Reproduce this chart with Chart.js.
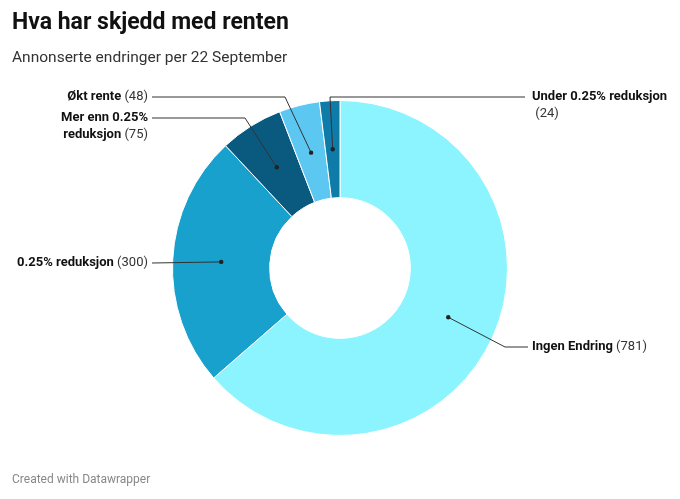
<!DOCTYPE html>
<html>
<head>
<meta charset="utf-8">
<script src="https://cdn.jsdelivr.net/npm/chart.js@4"></script>
<style>
body{margin:0;font-family:Roboto,sans-serif;background:#fff;}
#wrap{position:relative;width:680px;height:499px;}
#title{position:absolute;left:12px;top:8px;font-size:23px;font-weight:700;color:#111;}
#sub{position:absolute;left:12px;top:48px;font-size:15.5px;color:#333;}
#foot{position:absolute;left:12px;top:472px;font-size:12px;color:#888;}
canvas{position:absolute;left:0;top:0;}
</style>
</head>
<body>
<div id="wrap">
<canvas id="chart1" width="680" height="499"></canvas>
<div id="title">Hva har skjedd med renten</div>
<div id="sub">Annonserte endringer per 22 September</div>
<div id="foot">Created with Datawrapper</div>
</div>
<script>
var labels = ['Ingen Endring', '0.25% reduksjon', 'Mer enn 0.25% reduksjon', 'Økt rente', 'Under 0.25% reduksjon'];
var values = [781, 300, 75, 48, 24];
var colors = ['#8cf4ff', '#18a1cd', '#0a5a80', '#5cc8f2', '#0f7ba9'];

// label text lines + leader line bend points for each slice
var callouts = [
	{lines:[['Ingen Endring',' (781)']], x:532, y:347, align:'left', path:[[505,347],[528,347]]},
	{lines:[['0.25% reduksjon',' (300)']], x:148, y:263, align:'right', path:[[152,263]]},
	{lines:[['Mer enn 0.25%',''],['reduksjon',' (75)']], x:148, y:118, align:'right', path:[[245,118],[152,118]]},
	{lines:[['Økt rente',' (48)']], x:148, y:97, align:'right', path:[[285,97],[152,97]]},
	{lines:[['Under 0.25% reduksjon',''],['',' (24)']], x:532, y:97, align:'left', path:[[330,97],[525,97]]}
];

var calloutPlugin = {
	id: 'callouts',
	afterDraw: function(chart){
		var ctx = chart.ctx;
		var arcs = chart.getDatasetMeta(0).data;
		arcs.forEach(function(arc, i){
			var mid = (arc.startAngle + arc.endAngle) / 2;
			var r = (arc.innerRadius + arc.outerRadius) / 2;
			var px = arc.x + Math.cos(mid) * r;
			var py = arc.y + Math.sin(mid) * r;
			var c = callouts[i];
			ctx.save();
			ctx.strokeStyle = '#333';
			ctx.lineWidth = 1;
			ctx.beginPath();
			ctx.moveTo(px, py);
			c.path.forEach(function(p){ ctx.lineTo(p[0], p[1]); });
			ctx.stroke();
			ctx.fillStyle = '#222';
			ctx.beginPath();
			ctx.arc(px, py, 2.2, 0, Math.PI * 2);
			ctx.fill();
			ctx.textBaseline = 'middle';
			c.lines.forEach(function(ln, k){
				var y = c.y + k * 17;
				ctx.font = 'bold 13px Roboto';
				var w1 = ctx.measureText(ln[0]).width;
				ctx.font = '13px Roboto';
				var w2 = ctx.measureText(ln[1]).width;
				var x = c.align === 'left' ? c.x : c.x - w1 - w2;
				ctx.textAlign = 'left';
				ctx.fillStyle = '#111';
				ctx.font = 'bold 13px Roboto';
				ctx.fillText(ln[0], x, y);
				ctx.font = '13px Roboto';
				ctx.fillStyle = '#333';
				ctx.fillText(ln[1], x + w1, y);
			});
			ctx.restore();
		});
	}
};

var ctx = document.getElementById('chart1').getContext('2d');
var myChart = new Chart(ctx, {
	type: 'doughnut',
	data: {
		labels: labels,
		datasets: [{
			data: values,
			backgroundColor: colors,
			borderColor: '#fff',
			borderWidth: 1
		}]
	},
	options: {
		responsive: false,
		animation: false,
		cutout: '42%',
		layout: {padding: {top: 100, bottom: 63, left: 0, right: 0}},
		plugins: {legend: {display: false}, tooltip: {enabled: false}}
	},
	plugins: [calloutPlugin]
});
</script>
</body>
</html>
